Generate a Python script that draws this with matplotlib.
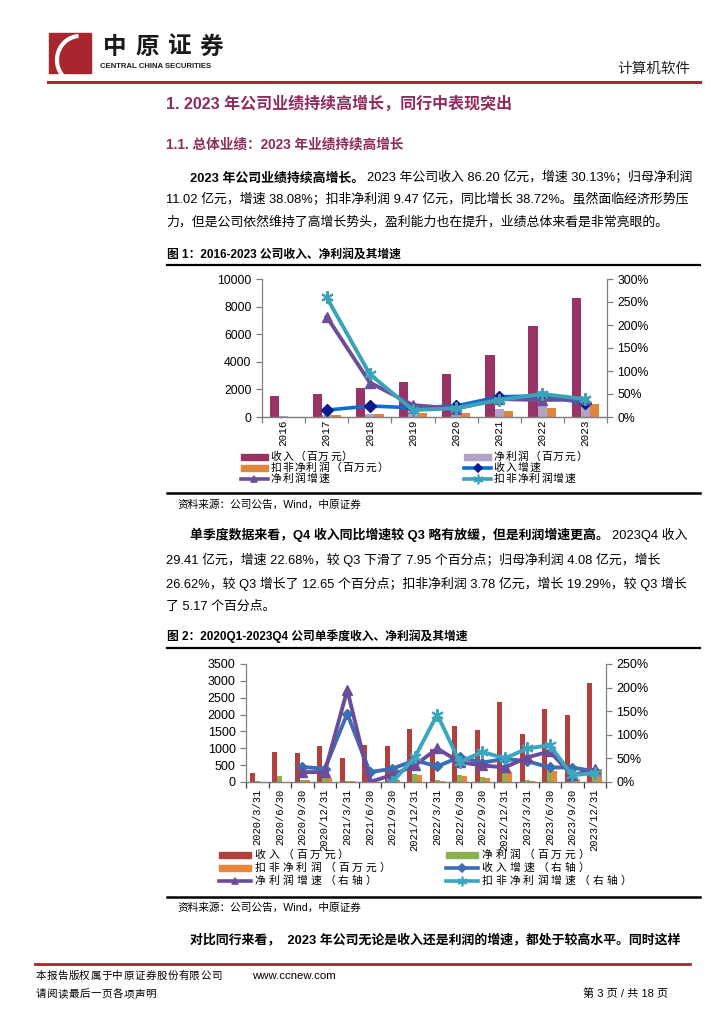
import matplotlib
matplotlib.use('Agg')
import matplotlib.pyplot as plt
import numpy as np
from matplotlib.patches import Rectangle, Arc
from matplotlib.lines import Line2D
from matplotlib.ticker import PercentFormatter, FixedLocator

plt.rcParams['font.family'] = ['Liberation Sans', 'Noto Sans CJK SC']

W, H = 724, 1024
nan = np.nan

# chart 1: annual figures (百万元 / %)
years = ['2016', '2017', '2018', '2019', '2020', '2021', '2022', '2023']
rev_annual = [1520, 1670, 2100, 2510, 3110, 4490, 6570, 8620]
np_annual = [45, 140, 245, 300, 330, 570, 798, 1102]
kf_annual = [35, 120, 230, 280, 300, 430, 683, 947]
rev_growth_annual = [nan, 15, 24, 20, 24, 44, 46, 30.13]
np_growth_annual = [nan, 218, 75, 26, 18, 39, 37, 38.08]
kf_growth_annual = [nan, 260, 93, 15, 19, 37, 50, 38.72]

# chart 2: quarterly figures (百万元 / %)
quarters = ['2020/3/31', '2020/6/30', '2020/9/30', '2020/12/31',
            '2021/3/31', '2021/6/30', '2021/9/30', '2021/12/31',
            '2022/3/31', '2022/6/30', '2022/9/30', '2022/12/31',
            '2023/3/31', '2023/6/30', '2023/9/30', '2023/12/31']
rev_q = [270, 900, 850, 1070, 710, 1090, 1070, 1580,
         970, 1660, 1540, 2380, 1420, 2160, 2000, 2941]
np_q = [15, 170, 70, 170, 40, 150, 80, 230,
        60, 220, 140, 310, 70, 330, 160, 408]
kf_q = [5, 5, 60, 120, 20, 50, 60, 200,
        25, 170, 110, 300, 30, 340, 100, 378]
rev_growth_q = [nan, nan, 32, 28, 145, 21, 28, 46,
                33, 53, 41, 49, 44, 31, 30.63, 22.68]
np_growth_q = [nan, nan, 21, 21, 195, 0, 15, 35,
               71, 42, 35, 31, 52, 65, 13.97, 26.62]
kf_growth_q = [nan, nan, nan, nan, nan, nan, 0, 52,
               143, 42, 64, 50, 71, 78, 14.12, 19.29]

C1 = dict(rev='#993366', np='#b3a2c7', kf='#e0853c',
          rev_g='#0a6fd0', rev_m='#0b1a8c', np_g='#6c4f98', kf_g='#3aa3ba')
C2 = dict(rev='#b0413e', np='#8db04f', kf='#e8873a',
          rev_g='#3c6eb4', np_g='#6b4c9a', kf_g='#3aa6c0')
HEAD = '#8e2b5c'

fig = plt.figure(figsize=(W / 100, H / 100), dpi=100)


def fx(px):
    return px / W


def fy(py):
    return 1 - py / H


def ftext(x, y, s, **kw):
    kw.setdefault('va', 'center')
    kw.setdefault('ha', 'left')
    return fig.text(fx(x), fy(y), s, **kw)


def hline(x0, x1, y, color='black', lw=1.5):
    fig.lines.append(Line2D([fx(x0), fx(x1)], [fy(y), fy(y)],
                            transform=fig.transFigure, color=color, lw=lw))


def spaced(x, y, s, pitch, **kw):
    for i, ch in enumerate(s):
        ftext(x + (i + 0.5) * pitch, y, ch, ha='center', **kw)


def rich_line(x, y, parts, size):
    # parts: list of (text, weight)
    r = fig.canvas.get_renderer()
    for s, wt in parts:
        t = ftext(x, y, s, fontsize=size, fontweight=wt)
        x += t.get_window_extent(r).width + 3


# ---- page header
fig.patches.append(Rectangle((fx(49), fy(73)), fx(42), 40 / H,
                             transform=fig.transFigure, color='#a8262c'))
fig.patches.append(Arc((fx(80), fy(60)), fx(46), 48 / H, theta1=95, theta2=215,
                       transform=fig.transFigure, color='white', lw=3))
spaced(99, 47, '中原证券', 32, fontsize=17, fontweight='bold', color='#1a1a1a')
ftext(100, 67, 'CENTRAL CHINA SECURITIES', fontsize=5.6, fontweight='bold',
      color='#1a1a1a')
ftext(690, 69, '计算机软件', ha='right', fontsize=10.5, color='#222222')
hline(48, 700, 82, color='#a8262c', lw=2.2)

# ---- headings & body text
ftext(166, 104, '1. 2023 年公司业绩持续高增长，同行中表现突出', fontsize=11.5,
      fontweight='bold', color=HEAD)
ftext(166, 144, '1.1. 总体业绩：2023 年业绩持续高增长', fontsize=9.8,
      fontweight='bold', color=HEAD)

BODY = 9.3
rich_line(190, 178, [('2023 年公司业绩持续高增长。', 'bold'),
                     ('2023 年公司收入 86.20 亿元，增速 30.13%；归母净利润', 'normal')], BODY)
ftext(166, 200, '11.02 亿元，增速 38.08%；扣非净利润 9.47 亿元，同比增长 38.72%。虽然面临经济形势压',
      fontsize=BODY)
ftext(166, 222, '力，但是公司依然维持了高增长势头，盈利能力也在提升，业绩总体来看是非常亮眼的。',
      fontsize=BODY)

ftext(167, 255, '图 1：2016-2023 公司收入、净利润及其增速', fontsize=8.5, fontweight='bold')
hline(167, 700, 265, lw=1.6)

rich_line(190, 535, [('单季度数据来看，Q4 收入同比增速较 Q3 略有放缓，但是利润增速更高。', 'bold'),
                     ('2023Q4 收入', 'normal')], BODY)
ftext(166, 560, '29.41 亿元，增速 22.68%，较 Q3 下滑了 7.95 个百分点；归母净利润 4.08 亿元，增长',
      fontsize=BODY)
ftext(166, 584, '26.62%，较 Q3 增长了 12.65 个百分点；扣非净利润 3.78 亿元，增长 19.29%，较 Q3 增长',
      fontsize=BODY)
ftext(166, 607, '了 5.17 个百分点。', fontsize=BODY)

ftext(167, 636, '图 2：2020Q1-2023Q4 公司单季度收入、净利润及其增速', fontsize=8.5,
      fontweight='bold')
hline(167, 700, 648, lw=1.6)

ftext(190, 940, '对比同行来看，  2023 年公司无论是收入还是利润的增速，都处于较高水平。同时这样',
      fontsize=BODY, fontweight='bold')

# ---- footer
hline(35, 690, 964, color='#a8262c', lw=2.0)
spaced(35, 976, '本报告版权属于中原证券股份有限公司', 11.0, fontsize=7.6)
ftext(252, 976, 'www.ccnew.com', fontsize=8.2)
spaced(35, 994, '请阅读最后一页各项声明', 11.0, fontsize=7.6)
ftext(668, 994, '第 3 页 / 共 18 页', ha='right', fontsize=8.0)


def style_axes(ax, ax2, size, xsize):
    for a in (ax, ax2):
        a.spines['top'].set_visible(False)
        for s in ('left', 'right', 'bottom'):
            a.spines[s].set_color('#808080')
            a.spines[s].set_linewidth(0.9)
        a.tick_params(axis='y', colors='#808080', labelcolor='black', labelsize=size,
                      length=4, width=0.9)
        a.set_facecolor('none')
    ax.tick_params(axis='x', which='major', length=0, labelsize=xsize)
    ax.tick_params(axis='x', which='minor', length=4, width=0.9, color='#808080')
    ax.spines['right'].set_visible(False)
    ax2.spines['left'].set_visible(False)


def legend_bar(x0, x1, y, color, label, pitch, size):
    fig.patches.append(Rectangle((fx(x0), fy(y + 3)), fx(x1 - x0), 6 / H,
                                 transform=fig.transFigure, color=color))
    spaced(x1 + 2, y, label, pitch, fontsize=size)


def legend_line(x0, x1, y, color, marker, mcolor, label, pitch, size, ms=5):
    fig.lines.append(Line2D([fx(x0), fx(x1)], [fy(y), fy(y)], transform=fig.transFigure,
                            color=color, lw=2.6))
    fig.lines.append(Line2D([fx((x0 + x1) / 2)], [fy(y)], transform=fig.transFigure,
                            marker=marker, color=mcolor, ms=ms, mew=1.2, lw=0))
    spaced(x1 + 2, y, label, pitch, fontsize=size)


STAR = (6, 2, 0)

# ---- chart 1
ax1 = fig.add_axes([fx(262), fy(417), fx(607 - 262), (417 - 279) / H])
ax1b = ax1.twinx()
x = np.arange(len(years))
bw = 0.215
ax1.bar(x - bw, rev_annual, bw, color=C1['rev'])
ax1.bar(x, np_annual, bw, color=C1['np'])
ax1.bar(x + bw, kf_annual, bw, color=C1['kf'])
ax1b.plot(x, rev_growth_annual, color=C1['rev_g'], lw=2.6, marker='D', ms=6,
          mfc=C1['rev_m'], mec=C1['rev_m'])
ax1b.plot(x, np_growth_annual, color=C1['np_g'], lw=2.8, marker='^', ms=7,
          mfc=C1['np_g'], mec=C1['np_g'])
ax1b.plot(x, kf_growth_annual, color=C1['kf_g'], lw=2.8, marker=STAR, ms=9,
          mec=C1['kf_g'], mew=1.5)
ax1.set_xlim(-0.5, len(years) - 0.5)
ax1.set_ylim(0, 10000)
ax1.set_yticks(np.arange(0, 10001, 2000))
ax1b.set_ylim(0, 300)
ax1b.set_yticks(np.arange(0, 301, 50))
ax1b.yaxis.set_major_formatter(PercentFormatter(100, decimals=0))
ax1.set_xticks(x)
ax1.set_xticklabels(years, rotation=90, va='top', family='Liberation Mono')
ax1.xaxis.set_minor_locator(FixedLocator(np.arange(-0.5, len(years), 1.0)))
style_axes(ax1, ax1b, 8.8, 7.9)
ax1.tick_params(axis='x', which='major', pad=2)

L1 = 7.8
legend_bar(241, 268, 457, C1['rev'], '收入（百万元）', 11.9, L1)
legend_bar(464, 491, 457, C1['np'], '净利润（百万元）', 11.9, L1)
legend_bar(241, 268, 468, C1['kf'], '扣非净利润（百万元）', 11.9, L1)
legend_line(464, 491, 468, C1['rev_g'], 'D', C1['rev_m'], '收入增速', 11.9, L1, ms=4.5)
legend_line(241, 268, 479, C1['np_g'], '^', C1['np_g'], '净利润增速', 11.9, L1)
legend_line(464, 491, 479, C1['kf_g'], STAR, C1['kf_g'], '扣非净利润增速', 11.9, L1, ms=7)
hline(167, 700, 493, lw=1.8)
ftext(177, 505, '资料来源：公司公告，Wind，中原证券', fontsize=7.7)

# ---- chart 2
ax2 = fig.add_axes([fx(246), fy(782), fx(606 - 246), (782 - 664) / H])
ax2b = ax2.twinx()
xq = np.arange(len(quarters))
bq = 0.22
ax2.bar(xq - bq, rev_q, bq, color=C2['rev'])
ax2.bar(xq, np_q, bq, color=C2['np'])
ax2.bar(xq + bq, kf_q, bq, color=C2['kf'])
ax2b.plot(xq, rev_growth_q, color=C2['rev_g'], lw=2.8, marker='D', ms=5.5,
          mfc=C2['rev_g'], mec=C2['rev_g'])
ax2b.plot(xq, np_growth_q, color=C2['np_g'], lw=2.8, marker='^', ms=7,
          mfc=C2['np_g'], mec=C2['np_g'])
ax2b.plot(xq, kf_growth_q, color=C2['kf_g'], lw=2.8, marker=STAR, ms=9,
          mec=C2['kf_g'], mew=1.5)
ax2.set_xlim(-0.5, len(quarters) - 0.5)
ax2.set_ylim(0, 3500)
ax2.set_yticks(np.arange(0, 3501, 500))
ax2b.set_ylim(0, 250)
ax2b.set_yticks(np.arange(0, 251, 50))
ax2b.yaxis.set_major_formatter(PercentFormatter(100, decimals=0))
ax2.set_xticks(xq)
ax2.set_xticklabels(quarters, rotation=90, va='top', family='Liberation Mono')
ax2.xaxis.set_minor_locator(FixedLocator(np.arange(-0.5, len(quarters), 1.0)))
style_axes(ax2, ax2b, 9.0, 7.6)
ax2.tick_params(axis='x', which='minor', color='#404040')
ax2.tick_params(axis='x', which='major', pad=5)

L2 = 7.8
legend_bar(219, 251, 855, C2['rev'], '收入（百万元）', 13.9, L2)
legend_bar(446, 478, 855, C2['np'], '净利润（百万元）', 13.9, L2)
legend_bar(219, 251, 868, C2['kf'], '扣非净利润（百万元）', 13.9, L2)
legend_line(446, 478, 868, C2['rev_g'], 'D', C2['rev_g'], '收入增速（右轴）', 13.9, L2, ms=4.5)
legend_line(219, 251, 881, C2['np_g'], '^', C2['np_g'], '净利润增速（右轴）', 13.9, L2)
legend_line(446, 478, 881, C2['kf_g'], STAR, C2['kf_g'], '扣非净利润增速（右轴）', 13.9, L2, ms=7)
hline(167, 700, 897, lw=1.8)
ftext(177, 908, '资料来源：公司公告，Wind，中原证券', fontsize=7.7)

fig.savefig('out.png', dpi=100)
